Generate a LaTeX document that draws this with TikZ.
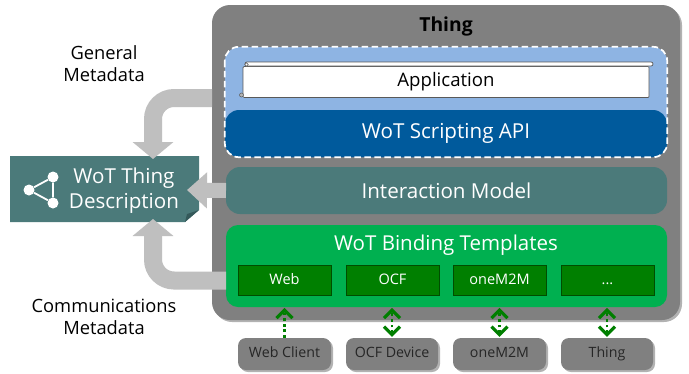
\documentclass[tikz,border=0pt]{standalone}
\usepackage{fontspec}
\setmainfont{Open Sans}
\usetikzlibrary{arrows.meta,shadows}
\definecolor{thinggray}{HTML}{808080}
\definecolor{skyfill}{HTML}{8EB4E3}
\definecolor{apiblue}{HTML}{005A9C}
\definecolor{tealfill}{HTML}{4B7A7A}
\definecolor{tealdark}{HTML}{34595A}
\definecolor{bindgreen}{HTML}{00B050}
\definecolor{protogreen}{HTML}{007F00}
\definecolor{protoedge}{HTML}{004D00}
\definecolor{flowgray}{HTML}{BFBFBF}
\tikzset{
  softshadow/.style={drop shadow={shadow xshift=2pt,shadow yshift=-2pt,opacity=.3,fill=black}},
  panel/.style={rounded corners=14pt,inner sep=0pt,text=white,font=\fontsize{20.6}{24}\selectfont},
  proto/.style={draw=protoedge,line width=.6pt,fill=protogreen,text=white,inner sep=0pt,minimum width=93pt,minimum height=30pt,text height=12pt,text depth=3pt,font=\fontsize{14.5}{17}\selectfont},
  device/.style={fill=thinggray,rounded corners=8pt,inner sep=0pt,text=black!85,minimum height=32pt,text height=10.5pt,text depth=3pt,font=\fontsize{14.2}{17}\selectfont,softshadow},
  flow/.style={draw=flowgray,line width=18pt,rounded corners=21pt,-{Triangle[length=17pt,width=40pt]}},
  flowplain/.style={draw=flowgray,line width=15pt,-{Triangle[length=20pt,width=35pt]}},
  wire/.style={draw=protogreen,line width=2.8pt,dash pattern=on 2.8pt off 2.8pt},
  chev/.tip={Straight Barb[length=8pt,width=16pt,line width=3.2pt]},
  iconline/.style={draw=white,line width=1.8pt},
  note/.style={align=center,text=black,inner sep=0pt,font=\fontsize{18.3}{22}\selectfont},
}
\begin{document}
\begin{tikzpicture}[x=1pt,y=-1pt]
\useasboundingbox (0,0) rectangle (689,373);
\fill[white] (0,0) rectangle (689,373);

\node[fill=thinggray,rounded corners=18pt,minimum width=468pt,minimum height=315pt,inner sep=0pt,softshadow] (thing) at (446,162.5) {};
\node[font=\fontsize{19.3}{22}\selectfont\bfseries,text=black,inner sep=0pt] (thingtitle) at (446,26) {Thing};

\node[fill=skyfill,rounded corners=14pt,minimum width=442pt,minimum height=110pt,inner sep=0pt] (group) at (446,102) {};
\node[fill=white,draw=black!65,line width=.7pt,rounded corners=1pt,minimum width=406pt,minimum height=31pt,inner sep=0pt,font=\fontsize{18.6}{22}\selectfont] (app) at (446,82) {Application};
\node[fill=white,draw=black!65,line width=.7pt,rounded corners=2pt,minimum width=408pt,minimum height=4pt,inner sep=0pt] (roll) at (449,64) {};
\node[circle,fill=white,draw=black!65,line width=.5pt,minimum size=3.5pt,inner sep=0pt] (rolltop) at (246.5,64.5) {};
\node[circle,fill=black!30,draw=black!65,line width=.5pt,minimum size=4pt,inner sep=0pt] (rollbottom) at (241.5,95) {};

\node[panel,fill=apiblue,minimum width=442pt,minimum height=47pt] (api) at (446,133.5) {WoT Scripting API};
\draw[white,line width=1.7pt,dash pattern=on 6.5pt off 3.5pt,rounded corners=14pt] (group.north west) rectangle (group.south east);

\node[panel,fill=tealfill,minimum width=441pt,minimum height=47pt] (model) at (446.5,190.5) {Interaction Model};

\node[fill=bindgreen,rounded corners=12pt,minimum width=441pt,minimum height=82pt,inner sep=0pt] (bind) at (446.5,266) {};
\node[text=white,inner sep=0pt,font=\fontsize{20.5}{24}\selectfont] (bindtitle) at (446,245) {WoT Binding Templates};
\node[proto] (web) at (284.5,280) {Web};
\node[proto] (ocf) at (392.5,280) {OCF};
\node[proto] (m2m) at (499.5,280) {oneM2M};
\node[proto] (more) at (607.5,280) {...};

\node[device,minimum width=93pt] (client) at (284.5,354) {Web Client};
\node[device,minimum width=92pt] (ocfdev) at (392,354) {OCF Device};
\node[device,minimum width=93pt] (m2mdev) at (499.5,354) {oneM2M};
\node[device,minimum width=92pt] (thingdev) at (607,354) {Thing};

\draw[wire,-{chev}] (client.north) -- ++(0,-30);
\draw[wire,{chev}-{chev}] (ocfdev.north) ++(0,-1) -- ++(0,-29);
\draw[wire,{chev}-{chev}] (m2mdev.north) ++(0,-1) -- ++(0,-29);
\draw[wire,{chev}-{chev}] (thingdev.north) ++(0,-1) -- ++(0,-29);

% WoT Thing Description
\path[fill=tealfill] (10,156) -- (199,156) -- (199,210) -- (185,222) -- (10,222) -- cycle;
\fill[tealdark] (199,210) -- (187,214) -- (185,222) -- cycle;
\coordinate (desc-n) at (153,159);
\coordinate (desc-s) at (153,219);
\coordinate (desc-e) at (187,190);
\node[text=white,align=center,inner sep=0pt,font=\fontsize{20.6}{25}\selectfont] (desc) at (124,191) {WoT Thing\\Description};
\node[circle,fill=white,minimum size=11pt,inner sep=0pt] (icona) at (29,190) {};
\node[circle,fill=white,minimum size=11pt,inner sep=0pt] (iconb) at (53,177) {};
\node[circle,fill=white,minimum size=11pt,inner sep=0pt] (iconc) at (53,203) {};
\draw[iconline] (icona) -- (iconb) -- (iconc) -- (icona);

% flows
\coordinate (src-top) at (212,98);
\coordinate (src-bot) at (226,280.5);
\coordinate (src-mid) at (226,190.5);
\draw[flow] (src-top) -| (desc-n);
\draw[flow] (src-bot) -| (desc-s);
\draw[flowplain] (src-mid) -- (desc-e);

\node[note] (general) at (104,64) {General\\Metadata};
\node[note] (comms) at (104,317) {Communications\\Metadata};
\end{tikzpicture}
\end{document}
